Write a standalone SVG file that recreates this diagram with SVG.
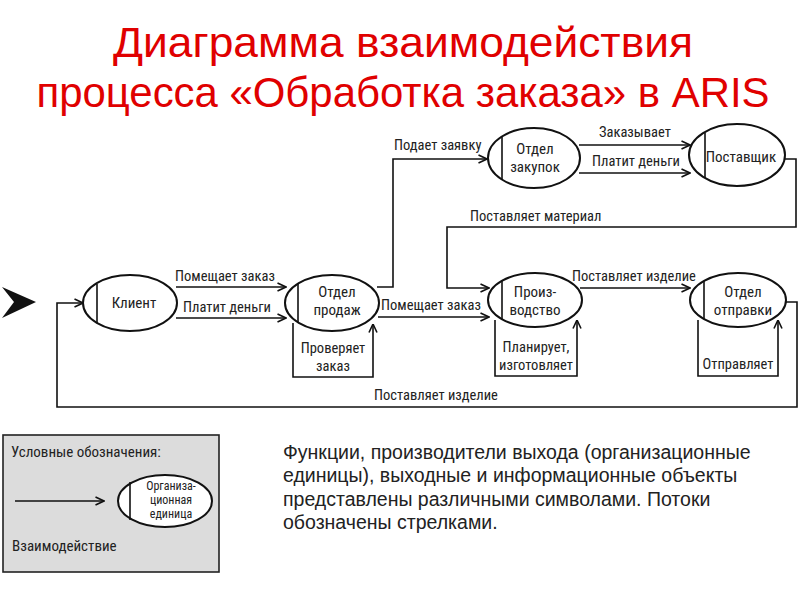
<svg xmlns="http://www.w3.org/2000/svg" width="800" height="600" viewBox="0 0 800 600">
<defs>
<marker id="arr" viewBox="0 0 10 10" refX="9.5" refY="5" markerWidth="10" markerHeight="10" markerUnits="userSpaceOnUse" orient="auto">
<path d="M1,1 L9.5,5 L1,9" fill="none" stroke="#111" stroke-width="1.6"/>
</marker>
<style>
.t{font-family:"Liberation Sans Narrow","Roboto Condensed","Liberation Sans",Arial,sans-serif;fill:#222;}
.lbl{font-size:14.5px;}
.nd{font-size:15px;text-anchor:middle;}
.ell{fill:#fff;stroke:#111;stroke-width:2;}
.bar{stroke:#111;stroke-width:1.6;}
.c{fill:none;stroke:#111;stroke-width:1.6;}
.title{font-family:"Liberation Sans Narrow","Liberation Sans",Arial,sans-serif;font-size:42px;fill:#e00000;text-anchor:middle;}
.desc{font-family:"Liberation Sans",Arial,sans-serif;font-size:19.5px;fill:#222;}
</style>
</defs>
<rect width="800" height="600" fill="#fff"/>

<text class="title" x="403" y="57" textLength="580" lengthAdjust="spacingAndGlyphs">Диаграмма взаимодействия</text>
<text class="title" x="403" y="107" textLength="733" lengthAdjust="spacingAndGlyphs">процесса «Обработка заказа» в ARIS</text>

<polygon points="2,287 36,302 2,318 14,302" fill="#111"/>

<g id="connectors">
<path class="c" d="M176,287 L286,287" marker-end="url(#arr)"/>
<path class="c" d="M176,318 L286,318" marker-end="url(#arr)"/>
<path class="c" d="M378,317 L489,317" marker-end="url(#arr)"/>
<path class="c" d="M377,287 L393,287 L393,159 L487,159" marker-end="url(#arr)"/>
<path class="c" d="M579,145 L690,145" marker-end="url(#arr)"/>
<path class="c" d="M579,173 L690,173" marker-end="url(#arr)"/>
<path class="c" d="M785,159 L796,159 L796,227 L447,227 L447,288 L489,288" marker-end="url(#arr)"/>
<path class="c" d="M580,288 L690,288" marker-end="url(#arr)"/>
<path class="c" d="M786,302 L797,302 L797,407 L57,407 L57,303 L83,303" marker-end="url(#arr)"/>
<path class="c" d="M293,323 L293,377 L373,377 L373,324" marker-end="url(#arr)"/>
<path class="c" d="M495,320 L495,376 L577,376 L577,320" marker-end="url(#arr)"/>
<path class="c" d="M698,320 L698,376 L778,376 L778,320" marker-end="url(#arr)"/>
<text class="t lbl" x="175" y="281">Помещает заказ</text>
<text class="t lbl" x="183" y="312">Платит деньги</text>
<text class="t lbl" x="381" y="310">Помещает заказ</text>
<text class="t lbl" x="394" y="150">Подает заявку</text>
<text class="t lbl" x="599" y="137">Заказывает</text>
<text class="t lbl" x="592" y="166">Платит деньги</text>
<text class="t lbl" x="470" y="221">Поставляет материал</text>
<text class="t lbl" x="572" y="281">Поставляет изделие</text>
<text class="t lbl" x="374" y="400">Поставляет изделие</text>
<text class="t lbl" x="333" y="353" text-anchor="middle">Проверяет</text>
<text class="t lbl" x="333" y="371" text-anchor="middle">заказ</text>
<text class="t lbl" x="536" y="352" text-anchor="middle">Планирует,</text>
<text class="t lbl" x="536" y="370" text-anchor="middle">изготовляет</text>
<text class="t lbl" x="738" y="369" text-anchor="middle">Отправляет</text>
</g>

<g id="klient">
<ellipse class="ell" cx="130" cy="303" rx="47" ry="28"/>
<line class="bar" x1="97" y1="284" x2="97" y2="323"/>
<text class="t nd" x="134" y="308">Клиент</text>
</g>
<g id="otdel-prodazh">
<ellipse class="ell" cx="332" cy="303" rx="47" ry="28"/>
<line class="bar" x1="298" y1="283" x2="298" y2="323"/>
<text class="t nd" x="337" y="297">Отдел</text>
<text class="t nd" x="337" y="315">продаж</text>
</g>
<g id="otdel-zakupok">
<ellipse class="ell" cx="534" cy="158" rx="46" ry="30"/>
<line class="bar" x1="502" y1="137" x2="502" y2="180"/>
<text class="t nd" x="535" y="154">Отдел</text>
<text class="t nd" x="535" y="172">закупок</text>
</g>
<g id="postavshchik">
<ellipse class="ell" cx="737" cy="155" rx="48" ry="31"/>
<line class="bar" x1="705" y1="133" x2="705" y2="178"/>
<text class="t nd" x="741" y="162">Поставщик</text>
</g>
<g id="proizvodstvo">
<ellipse class="ell" cx="535" cy="300" rx="47" ry="27"/>
<line class="bar" x1="502" y1="281" x2="502" y2="319"/>
<text class="t nd" x="535" y="297">Произ-</text>
<text class="t nd" x="535" y="315">водство</text>
</g>
<g id="otdel-otpravki">
<ellipse class="ell" cx="738" cy="300" rx="48" ry="27"/>
<line class="bar" x1="704" y1="281" x2="704" y2="319"/>
<text class="t nd" x="743" y="297">Отдел</text>
<text class="t nd" x="743" y="315">отправки</text>
</g>

<g id="legend">
<rect x="3" y="435" width="216" height="137" fill="#dcdcdc" stroke="#222" stroke-width="1.6"/>
<text class="t" x="11" y="457" font-size="15">Условные обозначения:</text>
<path class="c" d="M15,501 L104,501" marker-end="url(#arr)"/>
<ellipse class="ell" cx="165" cy="501" rx="47" ry="26"/>
<line class="bar" x1="130" y1="482" x2="130" y2="520"/>
<text class="t" x="171" y="490" font-size="12" text-anchor="middle">Организа-</text>
<text class="t" x="171" y="504" font-size="12" text-anchor="middle">ционная</text>
<text class="t" x="171" y="518" font-size="12" text-anchor="middle">единица</text>
<text class="t" x="12" y="551" font-size="15">Взаимодействие</text>
</g>

<g id="description">
<text class="desc" x="283" y="459">Функции, производители выхода (организационные</text>
<text class="desc" x="283" y="482">единицы), выходные и информационные объекты</text>
<text class="desc" x="283" y="506">представлены различными символами. Потоки</text>
<text class="desc" x="283" y="529">обозначены стрелками.</text>
</g>
</svg>
